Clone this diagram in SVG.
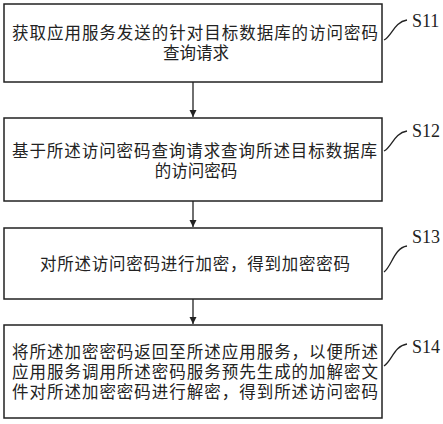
<svg xmlns="http://www.w3.org/2000/svg" width="443" height="424" viewBox="0 0 443 424">
<style>
.box{fill:#fff;stroke:#222;stroke-width:1.5}
.t{font-family:"Liberation Serif","Noto Sans CJK SC",serif;font-size:16.5px;fill:#222}
.s{font-family:"Liberation Serif",serif;font-size:18px;fill:#222}
.c{fill:none;stroke:#222;stroke-width:1.3}
.l{fill:none;stroke:#222;stroke-width:1.3}
</style>
<defs>
<marker id="ah" markerWidth="8" markerHeight="8" refX="7" refY="4" orient="auto" markerUnits="userSpaceOnUse">
<path d="M0,0.5 L7,4 L0,7.5 Z" fill="#222"/>
</marker>
</defs>
<rect width="443" height="424" fill="#fff"/>
<g id="connectors">
<line class="l" x1="193" y1="82" x2="193" y2="117" marker-end="url(#ah)"/>
<line class="l" x1="193" y1="201" x2="193" y2="227" marker-end="url(#ah)"/>
<line class="l" x1="193" y1="299" x2="193" y2="324" marker-end="url(#ah)"/>
</g>
<g id="s11">
<rect class="box" x="4" y="4" width="378" height="78"/>
<text class="t" x="12" y="39" textLength="366" lengthAdjust="spacing">获取应用服务发送的针对目标数据库的访问密码</text>
<text class="t" x="196" y="59" text-anchor="middle">查询请求</text>
<path class="c" d="M384,40 C392,36 394,22 407,20"/>
<text class="s" x="412" y="27">S11</text>
</g>
<g id="s12">
<rect class="box" x="4" y="118" width="378" height="83"/>
<text class="t" x="12" y="157" textLength="365" lengthAdjust="spacing">基于所述访问密码查询请求查询所述目标数据库</text>
<text class="t" x="196" y="177" text-anchor="middle">的访问密码</text>
<path class="c" d="M384,151 C392,147 394,133 407,131"/>
<text class="s" x="412" y="137">S12</text>
</g>
<g id="s13">
<rect class="box" x="4" y="228" width="378" height="71"/>
<text class="t" x="40" y="270" textLength="310" lengthAdjust="spacing">对所述访问密码进行加密，得到加密密码</text>
<path class="c" d="M384,272 C392,266 394,248 407,246"/>
<text class="s" x="412" y="243">S13</text>
</g>
<g id="s14">
<rect class="box" x="4" y="325" width="378" height="93"/>
<text class="t" x="12" y="358" textLength="366" lengthAdjust="spacing">将所述加密密码返回至所述应用服务，以便所述</text>
<text class="t" x="12" y="378" textLength="366" lengthAdjust="spacing">应用服务调用所述密码服务预先生成的加解密文</text>
<text class="t" x="12" y="398" textLength="366" lengthAdjust="spacing">件对所述加密密码进行解密，得到所述访问密码</text>
<path class="c" d="M384,366 C392,361 394,346 407,344"/>
<text class="s" x="412" y="353">S14</text>
</g>
</svg>
